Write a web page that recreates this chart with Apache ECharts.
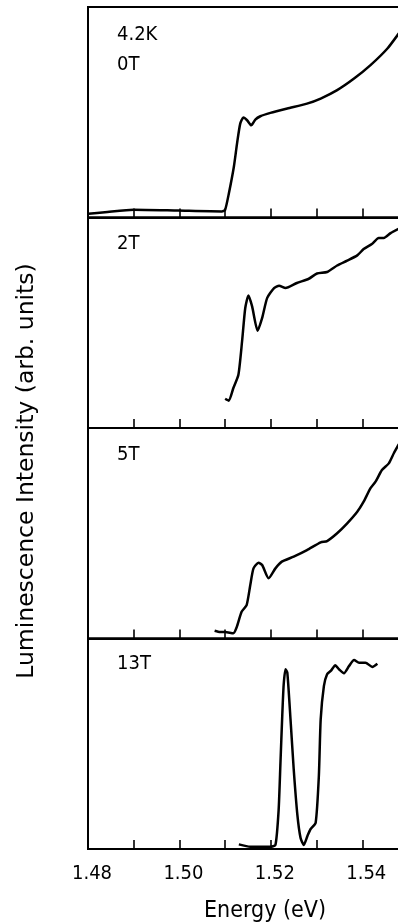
<!DOCTYPE html>
<html>
<head>
<meta charset="utf-8">
<script src="https://cdn.jsdelivr.net/npm/echarts@6/dist/echarts.min.js"></script>
<style>
  html, body { margin: 0; padding: 0; background: #fff; }
  #chart { width: 398px; height: 924px; }
</style>
</head>
<body>
<div id="chart"></div>
<script>
// Magneto-luminescence spectra at 4.2 K, stacked by field strength.
const fieldLabels = ['0T', '2T', '5T', '13T'];
const temperatureLabel = '4.2K';
const tickLabels = ['1.48', '1.50', '1.52', '1.54'];
const xTitle = 'Energy (eV)';
const yTitle = 'Luminescence Intensity (arb. units)';

// 0 T
const energy0T = [1.4801, 1.4837, 1.4900, 1.4997, 1.5093, 1.5100, 1.5108, 1.5119, 1.5126, 1.5133,
  1.5140, 1.5148, 1.5157, 1.5166, 1.5177, 1.5199, 1.5236, 1.5279, 1.5309, 1.5345,
  1.5382, 1.5418, 1.5455, 1.5480];
const intensity0T = [1.8, 2.5, 3.7, 3.3, 2.9, 3.7, 11.3, 24.0, 35.1, 44.6,
  47.5, 46.2, 43.8, 46.5, 48.1, 49.7, 51.8, 54.1, 56.5, 60.5,
  66.0, 72.4, 80.3, 87.5];

// 2 T
const energy2T = [1.5100, 1.5108, 1.5118, 1.5129, 1.5137, 1.5144, 1.5151, 1.5159, 1.5171, 1.5181,
  1.5192, 1.5207, 1.5218, 1.5232, 1.5257, 1.5283, 1.5301, 1.5323, 1.5345, 1.5367,
  1.5389, 1.5403, 1.5421, 1.5436, 1.5447, 1.5462, 1.5480];
const intensity2T = [13.9, 13.0, 19.0, 25.3, 41.1, 57.0, 63.0, 57.8, 46.2, 52.3,
  61.8, 66.5, 67.6, 66.5, 68.9, 70.9, 73.4, 74.1, 77.2, 79.5,
  82.0, 85.0, 87.4, 90.3, 90.3, 92.6, 94.7];

// 5 T
const energy5T = [1.5077, 1.5089, 1.5100, 1.5118, 1.5125, 1.5136, 1.5147, 1.5155, 1.5162, 1.5173,
  1.5181, 1.5195, 1.5210, 1.5224, 1.5250, 1.5279, 1.5309, 1.5323, 1.5345, 1.5367,
  1.5389, 1.5403, 1.5418, 1.5429, 1.5443, 1.5458, 1.5469, 1.5480];
const intensity5T = [3.7, 3.1, 3.1, 2.5, 5.2, 12.7, 15.9, 25.4, 33.3, 36.0,
  34.9, 28.6, 33.3, 36.5, 38.9, 42.0, 45.7, 46.3, 50.0, 54.7,
  60.2, 65.0, 71.4, 74.5, 80.0, 83.2, 88.0, 92.3];

// 13 T
const energy13T = [1.5130, 1.5155, 1.5199, 1.5210, 1.5217, 1.5221, 1.5225, 1.5228, 1.5232, 1.5236,
  1.5243, 1.5250, 1.5258, 1.5265, 1.5272, 1.5280, 1.5287, 1.5298, 1.5305, 1.5309,
  1.5316, 1.5323, 1.5331, 1.5341, 1.5349, 1.5360, 1.5371, 1.5382, 1.5393, 1.5407,
  1.5422, 1.5433];
const intensity13T = [2.2, 1.1, 1.1, 1.9, 18.5, 41.0, 63.7, 77.9, 85.4, 83.8,
  61.6, 37.9, 16.2, 5.2, 1.9, 6.2, 9.5, 12.5, 34.7, 61.6,
  77.4, 83.0, 84.6, 87.3, 85.4, 83.5, 86.9, 89.8, 88.5, 88.5,
  86.5, 88.0];

const spectra = [
  [energy0T, intensity0T],
  [energy2T, intensity2T],
  [energy5T, intensity5T],
  [energy13T, intensity13T]
];

const CONDENSED = "'DejaVu Sans Condensed', 'DejaVu Sans', sans-serif";
const REGULAR = "'DejaVu Sans', sans-serif";

// Panels share one energy scale; the frame runs past the right edge of the page.
const panelTops = [7, 217.5, 428, 638.5];
const panelHeight = 210.5;

const grids = panelTops.map(top => ({
  left: 88, top: top, width: 320, height: panelHeight,
  outerBoundsMode: 'none', containLabel: false,
  show: true, borderColor: '#000', borderWidth: 2, backgroundColor: 'transparent'
}));

const xAxes = panelTops.map((_, i) => ({
  type: 'value', gridIndex: i, min: 1.48, max: 1.55, interval: 0.01,
  axisLine: { show: true, onZero: false, lineStyle: { color: '#000', width: 2 } },
  axisTick: { show: true, inside: true, length: 9, lineStyle: { color: '#000', width: 1.6 } },
  splitLine: { show: false },
  axisLabel: {
    show: i === 3,
    margin: 15,
    color: '#000',
    fontFamily: CONDENSED,
    fontSize: 20,
    padding: [0, 0, 0, 8],
    hideOverlap: false,
    formatter: v => {
      const s = v.toFixed(2);
      return tickLabels.includes(s) ? s : '';
    }
  }
}));

const yAxes = panelTops.map((_, i) => ({
  type: 'value', gridIndex: i, min: 0, max: 100,
  axisLine: { show: true, lineStyle: { color: '#000', width: 2 } },
  axisTick: { show: false }, axisLabel: { show: false }, splitLine: { show: false }
}));

const series = spectra.map(([xs, ys], i) => ({
  type: 'line', xAxisIndex: i, yAxisIndex: i,
  data: xs.map((x, k) => [x, ys[k]]),
  showSymbol: false, smooth: 0.2,
  lineStyle: { color: '#000', width: 2.5 },
  animation: false
}));

// Temperature / field annotations inside each panel
const labelY = [64.5, 243.5, 454.5, 663.5];
const texts = [
  { type: 'text', x: 117, y: 35, style: { text: temperatureLabel, font: `20px ${CONDENSED}`, fill: '#000', verticalAlign: 'middle' } }
];
fieldLabels.forEach((lbl, i) => {
  texts.push({ type: 'text', x: 117, y: labelY[i], style: { text: lbl, font: `20px ${CONDENSED}`, fill: '#000', verticalAlign: 'middle' } });
});
texts.push({ type: 'text', x: 265, y: 911, style: { text: xTitle, font: `23px ${CONDENSED}`, fill: '#000', align: 'center', verticalAlign: 'middle' } });
texts.push({ type: 'text', x: 27, y: 471, rotation: Math.PI / 2, style: { text: yTitle, font: `23.5px ${REGULAR}`, fill: '#000', align: 'center', verticalAlign: 'middle' } });

const chart = echarts.init(document.getElementById('chart'), null, { renderer: 'canvas' });
chart.setOption({
  backgroundColor: '#fff',
  animation: false,
  grid: grids,
  xAxis: xAxes,
  yAxis: yAxes,
  series: series,
  graphic: texts
});
</script>
</body>
</html>
